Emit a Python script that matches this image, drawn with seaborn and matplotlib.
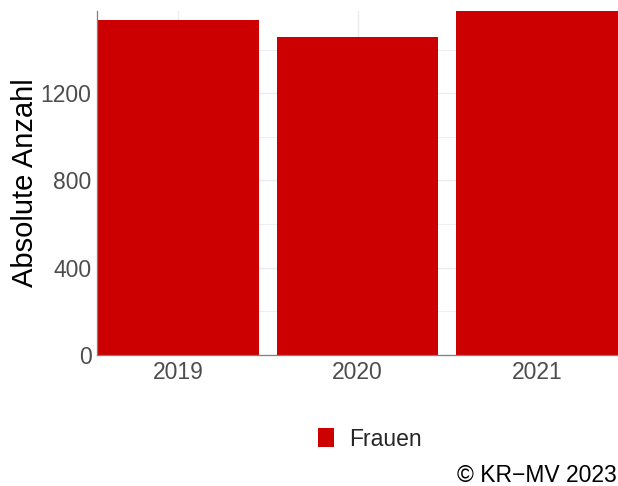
import numpy as np
import pandas as pd
import matplotlib
matplotlib.use("Agg")
import matplotlib.pyplot as plt
import seaborn as sns
from matplotlib.ticker import MultipleLocator

# ── Data ──────────────────────────────────────────────────────
years = ["2019", "2020", "2021"]
counts = [1536, 1457, 1577]
group = ["Frauen", "Frauen", "Frauen"]
y_ticks = [0, 400, 800, 1200]

BAR_RED = "#CC0000"
GRID = "#EBEBEB"
TICK_GREY = "#4D4D4D"

sns.set_theme(style="white")
plt.rcParams["font.family"] = ["Liberation Sans", "DejaVu Sans"]

df = pd.DataFrame({"Jahr": years, "Anzahl": counts, "Gruppe": group})

W, H = 618, 486
fig = plt.figure(figsize=(W / 100, H / 100), dpi=100)
ax = fig.add_axes([97 / W, 1 - 355 / H, (618 - 97) / W, (355 - 11) / H])

sns.barplot(
    data=df, x="Jahr", y="Anzahl", hue="Gruppe",
    palette=[BAR_RED], width=0.9, saturation=1, ax=ax, legend=False, zorder=2,
    edgecolor="none",
)

ax.set_xlim(-0.45, 2.45)
ax.set_ylim(0, max(counts))
ax.set_yticks(y_ticks)
ax.yaxis.set_minor_locator(MultipleLocator(200))

# ── Grid ──────────────────────────────────────────────────────
ax.set_axisbelow(True)
ax.grid(True, which="major", color=GRID, linewidth=1.0, zorder=0)
ax.grid(True, which="minor", axis="y", color=GRID, linewidth=0.6, zorder=0)

# ── Spines / ticks ────────────────────────────────────────────
for s in ["top", "right"]:
    ax.spines[s].set_visible(False)
for s in ["left", "bottom"]:
    ax.spines[s].set_color("#7F7F7F")
    ax.spines[s].set_linewidth(0.9)
    ax.spines[s].set_zorder(5)

ax.tick_params(axis="both", which="both", length=0, labelsize=16.5, colors=TICK_GREY)
ax.tick_params(axis="y", pad=4)
ax.tick_params(axis="x", pad=4)

ax.set_xlabel("")
ax.set_ylabel("Absolute Anzahl", fontsize=21, color="black")
ax.yaxis.set_label_coords(-0.111, 0.5)

# ── Legend ────────────────────────────────────────────────────
handle = matplotlib.patches.Patch(facecolor=BAR_RED, edgecolor="none")
fig.legend(
    [handle], ["Frauen"], loc="center left",
    bbox_to_anchor=(318 / W, 1 - 439 / H), frameon=False,
    fontsize=16.5, handlelength=0.7, handleheight=0.92,
    handletextpad=0.66, borderpad=0, borderaxespad=0,
)

fig.text(617 / W, 1 - 482 / H, "© KR\u2212MV 2023", ha="right", va="baseline",
         fontsize=16.5, color="black")

fig.savefig("out.png", dpi=100)
